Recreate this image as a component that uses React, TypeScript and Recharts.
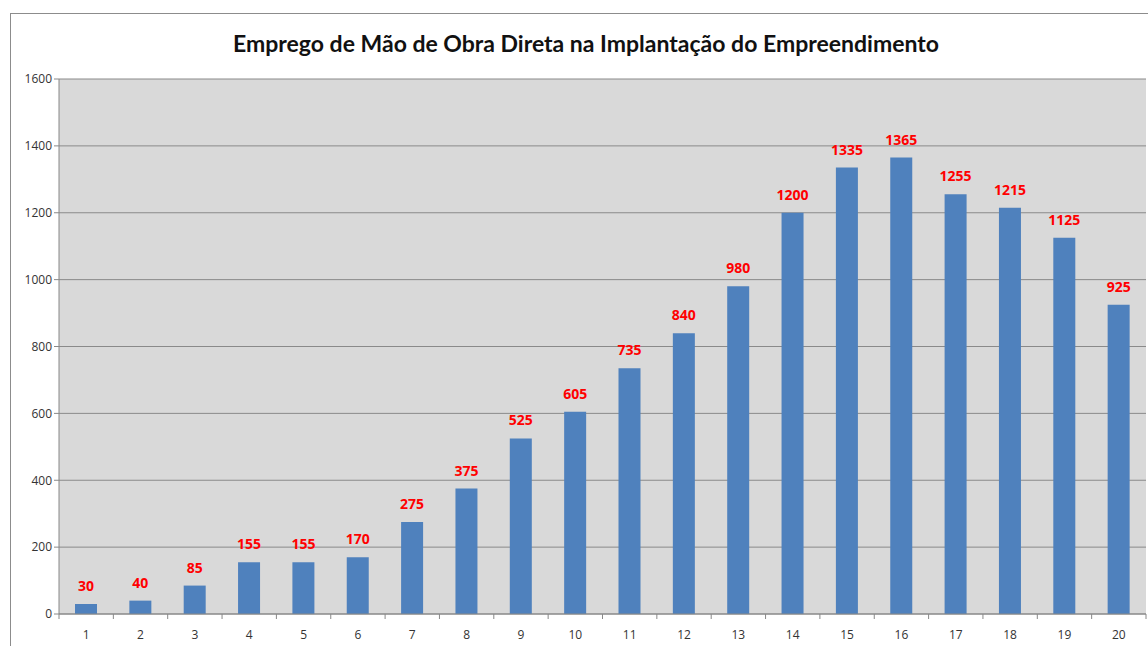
import React from "react";
import { BarChart, Bar, XAxis, YAxis, CartesianGrid, LabelList } from "recharts";

const periods = ["1", "2", "3", "4", "5", "6", "7", "8", "9", "10", "11", "12", "13", "14", "15", "16", "17", "18", "19", "20"];
const workers = [30, 40, 85, 155, 155, 170, 275, 375, 525, 605, 735, 840, 980, 1200, 1335, 1365, 1255, 1215, 1125, 925];
const yTicks = [0, 200, 400, 600, 800, 1000, 1200, 1400, 1600];

const data = periods.map((p, i) => ({ period: p, value: workers[i] }));

const FONT = "'Open Sans', Arial, sans-serif";
const HALF_BAND = (1146 - 59) / periods.length / 2;

// Excel draws the x ticks on category boundaries, not centers
const XTick = (props: any) => {
  const { x, y, payload, index } = props;
  const isLast = index === periods.length - 1;
  return (
    <g>
      <line x1={x - HALF_BAND} x2={x - HALF_BAND} y1={y - 8} y2={y - 3} stroke="#888" />
      {isLast && <line x1={x + HALF_BAND} x2={x + HALF_BAND} y1={y - 8} y2={y - 3} stroke="#888" />}
      <text x={x} y={y + 17} textAnchor="middle" fontSize={12} fill="#333" fontFamily={FONT}>
        {payload.value}
      </text>
    </g>
  );
};

export default function App() {
  return (
    <div style={{ position: "fixed", left: 0, top: 0, width: 1148, height: 646, background: "#fff", overflow: "hidden" }}>
      <div
        style={{
          position: "absolute",
          left: 10,
          top: 13,
          width: 1160,
          height: 700,
          border: "1px solid #8c8c8c",
          boxSizing: "border-box",
        }}
      />
      <div
        style={{
          position: "absolute",
          left: 0,
          top: 29,
          width: 1172,
          textAlign: "center",
          fontFamily: "Lato, sans-serif",
          fontWeight: 700,
          fontSize: 23,
          color: "#111",
        }}
      >
        Emprego de Mão de Obra Direta na Implantação do Empreendimento
      </div>
      <BarChart
        width={1148}
        height={646}
        data={data}
        margin={{ top: 79, right: 2, left: 9, bottom: 0 }}
        style={{ position: "absolute", left: 0, top: 0 }}
      >
        <CartesianGrid fill="#d9d9d9" stroke="#8a8a8a" vertical={false} />
        <XAxis
          dataKey="period"
          height={32}
          tickLine={false}
          axisLine={{ stroke: "#888" }}
          tick={<XTick />}
          interval={0}
        />
        <YAxis
          width={50}
          domain={[0, 1600]}
          ticks={yTicks}
          interval={0}
          tickSize={5}
          tickLine={{ stroke: "#888" }}
          axisLine={{ stroke: "#888" }}
          tick={{ fontSize: 12, fill: "#333", fontFamily: FONT }}
        />
        <Bar dataKey="value" fill="#4f81bd" barSize={22} isAnimationActive={false}>
          <LabelList
            dataKey="value"
            position="top"
            offset={13}
            style={{ fill: "#ff0000", fontSize: 14, fontWeight: 700, fontFamily: FONT }}
          />
        </Bar>
      </BarChart>
    </div>
  );
}
